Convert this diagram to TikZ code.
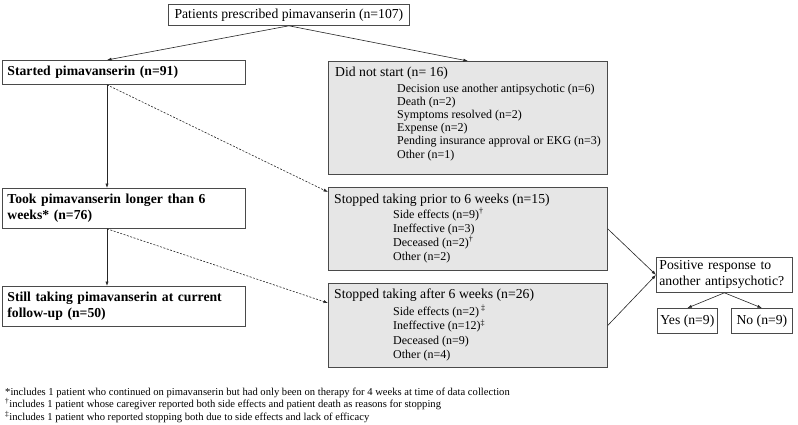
\documentclass[tikz,border=0pt]{standalone}
\usepackage{fontspec}
\setmainfont{Liberation Serif}
\usetikzlibrary{arrows.meta,positioning}
\definecolor{boxline}{HTML}{4A4A4A}
\definecolor{boxfill}{HTML}{E6E6E6}
\newcommand\mainsize{\fontsize{13.7}{16}\selectfont}
\tikzset{
  box/.style={draw=boxline,line width=0.8pt,anchor=north west,inner sep=0pt,font=\mainsize},
  wbox/.style={box,text width=233pt,inner xsep=5pt,inner ysep=0pt,align=left,font=\mainsize\bfseries},
  gbox/.style={box,fill=boxfill,minimum width=279pt},
  head/.style={anchor=base west,inner sep=0pt,font=\mainsize},
  reasons/.style={anchor=base west,inner sep=0pt,align=left,font=\fontsize{12}{#1}\selectfont},
  note/.style={anchor=base west,inner sep=0pt,font=\fontsize{10.6}{12}\selectfont},
  link/.style={draw=black!85,line width=0.6pt}
}
\begin{document}
\begin{tikzpicture}[x=1pt,y=-1pt,>={Latex[length=4.5pt,width=3.2pt]}]
\path[fill=white] (0,0) rectangle (798,425);
\useasboundingbox (0,0) rectangle (798,425);

\coordinate (spine) at (107,0);

\node[box,minimum width=241pt,minimum height=21pt] (prescribed) at (168,4)
  {Patients prescribed pimavanserin (n=107)};

\node[wbox,minimum height=24pt] (started) at (2,60) {Started pimavanserin (n=91)};
\node[wbox,minimum height=40pt] (took) at (2,188)
  {Took pimavanserin longer than 6\\weeks* (n=76)};
\node[wbox,minimum height=40pt] (still) at (2,286)
  {Still taking pimavanserin at current\\follow-up (n=50)};

\node[gbox,minimum height=113pt] (nostart) at (328,61) {};
\node[head] (nostarthead) at (335,76.5) {Did not start (n= 16)};
\node[reasons=13.2] (nostartlist) at (397,158)
  {Decision use another antipsychotic (n=6)\\Death (n=2)\\Symptoms resolved (n=2)\\
   Expense (n=2)\\Pending insurance approval or EKG (n=3)\\Other (n=1)};

\node[gbox,minimum height=83pt] (prior) at (328,187) {};
\node[head] (priorhead) at (334,203.5) {Stopped taking prior to 6 weeks (n=15)};
\node[reasons=14] (priorlist) at (393,260)
  {Side effects (n=9)\textsuperscript{†}\\Ineffective (n=3)\\
   Deceased (n=2)\textsuperscript{†}\\Other (n=2)};

\node[gbox,minimum height=84pt] (after) at (328,283) {};
\node[head] (afterhead) at (334,298.5) {Stopped taking after 6 weeks (n=26)};
\node[reasons=14.5] (afterlist) at (393,358.5)
  {Side effects (n=2)\,\textsuperscript{‡}\\Ineffective (n=12)\textsuperscript{‡}\\
   Deceased (n=9)\\Other (n=4)};

\node[box,text width=130pt,inner xsep=3pt,align=left,minimum height=35pt] (positive) at (656,257)
  {Positive response to\\another antipsychotic?};
\node[box,minimum width=60pt,minimum height=25pt] (yes) at (657,308) {Yes (n=9)};
\node[box,minimum width=61pt,minimum height=25pt] (no) at (731,308) {No (n=9)};

\draw[link,->] (prescribed.south) -- (spine |- started.north);
\draw[link,->] (prescribed.south) -- (nostart.north);
\draw[link,->] (spine |- started.south) -- (spine |- took.north);
\draw[link,->] (spine |- took.south) -- (spine |- still.north);
\draw[link,dash pattern=on 2pt off 1.5pt,->] (spine |- started.south) -- ([yshift=-5pt]prior.north west);
\draw[link,dash pattern=on 2pt off 1.5pt,->] (spine |- took.south) -- ([yshift=-20pt]after.north west);
\draw[link,->] (prior.east) -- (positive.west);
\draw[link,->] (after.east) -- (positive.west);
\draw[link,->] (positive.south) -- (yes.north);
\draw[link,->] (positive.south) -- (no.north);

\node[note] (note1) at (5,395)
  {*includes 1 patient who continued on pimavanserin but had only been on therapy for 4 weeks at time of data collection};
\node[note] (note2) at (5,407.5)
  {\textsuperscript{†}includes 1 patient whose caregiver reported both side effects and patient death as reasons for stopping};
\node[note] (note3) at (5,420)
  {\textsuperscript{‡}includes 1 patient who reported stopping both due to side effects and lack of efficacy};
\end{tikzpicture}
\end{document}
